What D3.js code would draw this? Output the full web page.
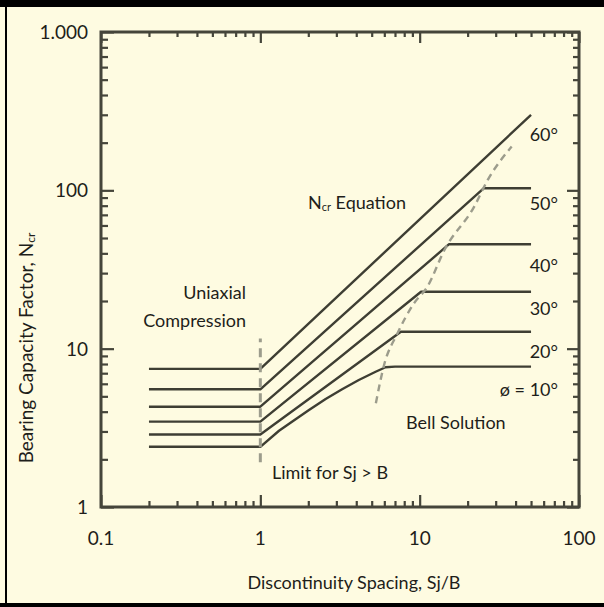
<!DOCTYPE html>
<html><head><meta charset="utf-8">
<script src="https://cdn.jsdelivr.net/npm/d3@7"></script>
<style>
html,body{margin:0;padding:0;background:#fff;}
svg{display:block;}
text{font-family:Lato,"Noto Sans",sans-serif;fill:#1e1e1a;}
</style></head><body>
<script>
// ---- data ----
const angles = ["60°","50°","40°","30°","20°","ø = 10°"];
const series60 = [[0.2,7.45],[1,7.45],[50,300]];
const series50 = [[0.2,5.54],[1,5.54],[25.2,103],[50,103]];
const series40 = [[0.2,4.30],[1,4.30],[15.3,45.7],[50,45.7]];
const series30 = [[0.2,3.46],[1,3.46],[10.2,22.9],[50,22.9]];
const series20 = [[0.2,2.87],[1,2.87],[7.62,12.8],[50,12.8]];
const series10 = [[0.2,2.40],[1,2.40],[1.31,3.03],[1.58,3.46],[2.02,4.10],[2.57,4.81],[3.26,5.54],[4.15,6.34],[5.29,7.15],[6.11,7.63],[7.0,7.7],[50,7.7]];
const bellBoundary = [[5.31,4.52],[5.98,7.89],[7.26,12.5],[9.23,19.4],[11.2,24.7],[14.3,42.0],[22.0,78.9],[26.7,116],[37.8,189]];
const limitLine = [[1,1.92],[1,11.6]];
const xTickLabels = ["0.1","1","10","100"];
const yTickLabels = ["1","10","100","1.000"];
const xMajor = [0.1,1,10,100];
const yMajor = [1,10,100,1000];

// ---- layout ----
const W=604,H=607;
const svg=d3.select("body").append("svg").attr("width",W).attr("height",H);
svg.append("rect").attr("width",W).attr("height",H).attr("fill","#fefbe1");
// frame
svg.append("rect").attr("x",0).attr("y",0).attr("width",W).attr("height",7).attr("fill","#000");
svg.append("rect").attr("x",0).attr("y",603).attr("width",W).attr("height",4).attr("fill","#000");
svg.append("rect").attr("x",5).attr("y",0).attr("width",2).attr("height",H).attr("fill","#000");

const L=101,R=579,T=32,B=507;
const x=d3.scaleLog().domain([0.1,100]).range([L,R]);
const y=d3.scaleLog().domain([1,1000]).range([B,T]);

function minors(dom){const out=[];for(let d=dom[0];d<dom[1];d*=10){for(let k=2;k<=9;k++)out.push(d*k);}return out;}
const xMin=minors([0.1,100]), yMin=minors([1,1000]);
const axCol="#45453a";

function styleAxis(g){g.select(".domain").remove();g.selectAll("line").attr("stroke",axCol).attr("stroke-width",2.2);g.selectAll("text").remove();}
// bottom
svg.append("g").attr("transform",`translate(0,${B})`).call(d3.axisBottom(x).tickValues(xMin).tickSize(-6)).call(styleAxis);
svg.append("g").attr("transform",`translate(0,${B})`).call(d3.axisBottom(x).tickValues(xMajor).tickSize(-12)).call(styleAxis);
// top
svg.append("g").attr("transform",`translate(0,${T})`).call(d3.axisTop(x).tickValues(xMin).tickSize(-5)).call(styleAxis);
svg.append("g").attr("transform",`translate(0,${T})`).call(d3.axisTop(x).tickValues(xMajor).tickSize(-11)).call(styleAxis);
// left
svg.append("g").attr("transform",`translate(${L},0)`).call(d3.axisLeft(y).tickValues(yMin).tickSize(-7)).call(styleAxis);
svg.append("g").attr("transform",`translate(${L},0)`).call(d3.axisLeft(y).tickValues(yMajor).tickSize(-13)).call(styleAxis);
// right
svg.append("g").attr("transform",`translate(${R},0)`).call(d3.axisRight(y).tickValues(yMin).tickSize(-6)).call(styleAxis);
svg.append("g").attr("transform",`translate(${R},0)`).call(d3.axisRight(y).tickValues(yMajor).tickSize(-12)).call(styleAxis);
// frame of plot
svg.append("rect").attr("x",L).attr("y",T).attr("width",R-L).attr("height",B-T)
  .attr("fill","none").attr("stroke",axCol).attr("stroke-width",3);

// tick labels
svg.selectAll(".xl").data(xMajor).enter().append("text")
  .attr("x",d=>x(d)).attr("y",545).attr("text-anchor","middle").attr("font-size",19)
  .text((d,i)=>xTickLabels[i]);
svg.selectAll(".yl").data(yMajor).enter().append("text")
  .attr("x",88).attr("y",d=>y(d)+7).attr("text-anchor","end").attr("font-size",19)
  .text((d,i)=>yTickLabels[i]);

// lines
const line=d3.line().x(d=>x(d[0])).y(d=>y(d[1]));
const lineCol="#3e3e33";
[series60,series50,series40,series30,series20,series10].forEach(s=>{
  svg.append("path").attr("d",line(s)).attr("fill","none").attr("stroke",lineCol)
    .attr("stroke-width",2.4).attr("stroke-linejoin","round");
});
const dashCol="#9c9c8c";
svg.append("path").attr("d",line.curve(d3.curveMonotoneX)(bellBoundary)).attr("fill","none")
  .attr("stroke",dashCol).attr("stroke-width",2.4).attr("stroke-dasharray","7,5");
line.curve(d3.curveLinear);
svg.append("path").attr("d",line(limitLine)).attr("fill","none")
  .attr("stroke",dashCol).attr("stroke-width",3).attr("stroke-dasharray","9,6");

// annotations
const fs=18;
const angleY=[141,210,272,315,358,396];
angles.forEach((a,i)=>{
  svg.append("text").attr("x",558).attr("y",angleY[i]).attr("text-anchor","end").attr("font-size",fs).text(a);
});
const eq=svg.append("text").attr("x",308).attr("y",209).attr("font-size",fs);
eq.append("tspan").text("N");
eq.append("tspan").attr("font-size",11).attr("dy",2).text("cr");
eq.append("tspan").attr("dy",-2).text(" Equation");
svg.append("text").attr("x",246).attr("y",299).attr("text-anchor","end").attr("font-size",fs).text("Uniaxial");
svg.append("text").attr("x",246).attr("y",327).attr("text-anchor","end").attr("font-size",fs).text("Compression");
svg.append("text").attr("x",406).attr("y",429).attr("font-size",fs).text("Bell Solution");
svg.append("text").attr("x",272).attr("y",479).attr("font-size",fs).text("Limit for Sj > B");
svg.append("text").attr("x",354).attr("y",589).attr("text-anchor","middle").attr("font-size",fs).text("Discontinuity Spacing, Sj/B");
const yl=svg.append("text").attr("transform","translate(33,348) rotate(-90)").attr("text-anchor","middle").attr("font-size",19);
yl.append("tspan").text("Bearing Capacity Factor, N");
yl.append("tspan").attr("font-size",12).attr("dy",2).text("cr");
</script>
</body></html>
